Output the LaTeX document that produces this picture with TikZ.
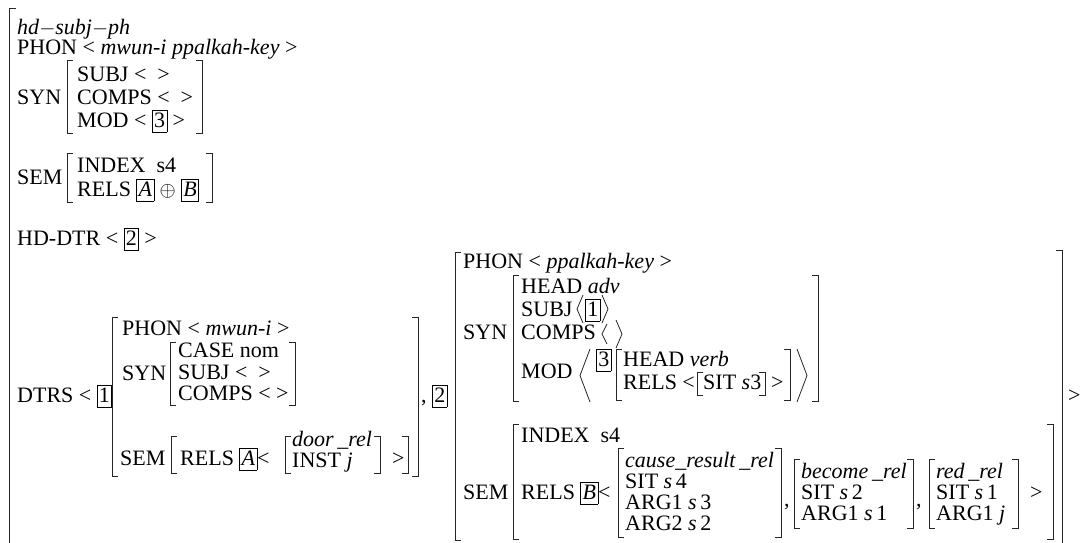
\documentclass[tikz,border=0pt]{standalone}
\usepackage{fontspec}
\setmainfont{Liberation Serif}
\newcommand\avmfont{\fontsize{22}{22}\selectfont}
\setlength\fboxsep{1.5pt}
\setlength\fboxrule{0.6pt}
% boxed tag
\newcommand\tg[1]{\fbox{\rule[-3pt]{0pt}{18pt}#1}}
% square brackets: x, top, bottom
\newcommand\lbr[3]{\draw[brk] (#1+6,#2) -- (#1,#2) -- (#1,#3) -- (#1+6,#3);}
\newcommand\rbr[3]{\draw[brk] (#1-6,#2) -- (#1,#2) -- (#1,#3) -- (#1-6,#3);}
% angle brackets: x, top, bottom, width
\newcommand\lang[4]{\draw[brk] (#1+#4,#2) -- (#1,{(#2+#3)/2}) -- (#1+#4,#3);}
\newcommand\rang[4]{\draw[brk] (#1-#4,#2) -- (#1,{(#2+#3)/2}) -- (#1-#4,#3);}
\tikzset{
  avm/.style={anchor=base west, inner sep=0pt, font=\avmfont},
  brk/.style={line width=0.8pt, black!85}
}
\begin{document}
\begin{tikzpicture}[x=1pt, y=-1pt]
    \useasboundingbox (0,0) rectangle (1080,542);
    % Outer bracket of the whole phrase
    \draw[brk] (16,8) -- (9,8) -- (9,548);

    % Type and phonology
    \node[avm] (type) at (17,34) {\textit{hd}$-$\textit{subj}$-$\textit{ph}};
    \node[avm] (phon) at (17,54) {PHON < \textit{mwun-i ppalkah-key} >};

    % SYN of the mother
    \node[avm] (syn) at (17,104) {SYN};
    \lbr{67}{60}{133} \rbr{202}{60}{133}
    \foreach \y/\t in {
        81/{SUBJ <\ \ >}, 104/{COMPS <\ \ >}, 127/{MOD < \tg{3} >}
    }
    \node[avm] (syn-\y) at (77,\y) {\t};

    % SEM of the mother
    \node[avm] (sem) at (17,184) {SEM};
    \lbr{67}{153}{202} \rbr{212}{153}{202}
    \node[avm] (index) at (77,172) {INDEX\ \ s4};
    \node[avm] (rels) at (77,196) {RELS \tg{\textit{A}} $\oplus$ \tg{\textit{B}}};

    % Head daughter
    \node[avm] (hddtr) at (17,245) {HD-DTR < \tg{2} >};

    % Daughters list
    \node[avm] (dtrs) at (17,402) {DTRS < \tg{1}};
    \node[avm] (comma) at (421,402) {, \tg{2}};
    \node[avm] (close) at (1068,402) {>};

    % First daughter
    \lbr{112}{317}{476} \rbr{418}{317}{476}
    \node[avm] (phon1) at (122,335) {PHON < \textit{mwun-i} >};
    \node[avm] (syn1) at (122,380) {SYN};
    \lbr{170}{342}{405} \rbr{295}{342}{405}
    \foreach \y/\t in {
        357/{CASE nom}, 379/{SUBJ <\ \ >}, 400/{COMPS < >}
    }
    \node[avm] (syn1-\y) at (178,\y) {\t};
    \node[avm] (sem1) at (120,465) {SEM};
    \lbr{171}{436}{473} \rbr{408}{436}{473}
    \node[avm] (rels1) at (180,465) {RELS \tg{\textit{A}}<};
    \lbr{285}{436}{473} \rbr{380}{436}{473}
    \node[avm] (door) at (292,446) {\textit{door\,\_rel}};
    \node[avm] (inst) at (292,467) {INST \textit{j}};
    \node[avm] (gt1) at (392,465) {>};

    % Second daughter
    \lbr{455}{252}{540} \rbr{1062}{250}{548}
    \node[avm] (phon2) at (463,268) {PHON < \textit{ppalkah-key} >};
    \node[avm] (syn2) at (463,339) {SYN};
    \lbr{513}{275}{401} \rbr{818}{275}{401}
    \node[avm] (head2) at (521,293) {HEAD \textit{adv}};
    \node[avm] (subj2) at (521,316) {SUBJ};
    \node[avm] (tag1) at (585,316) {\tg{1}};
    \lang{577}{295}{323}{6} \rang{608}{295}{323}{6}
    \node[avm] (comps2) at (521,339) {COMPS};
    \lang{602}{324}{344}{5} \rang{622}{320}{348}{6}
    \node[avm] (mod2) at (521,378) {MOD};
    \lang{580}{349}{402}{10} \rang{807}{349}{402}{10}
    \node[avm] (tag3) at (596,366) {\tg{3}};
    \lbr{616}{349}{400} \rbr{790}{349}{400}
    \node[avm] (verb) at (623,366) {HEAD \textit{verb}};
    \node[avm] (relsm) at (623,389) {RELS <};
    \lbr{697}{372}{395} \rbr{765}{372}{395}
    \node[avm] (sit3) at (703,389) {SIT \textit{s}3};
    \node[avm] (gtm) at (771,389) {>};

    \node[avm] (sem2) at (463,499) {SEM};
    \lbr{513}{424}{539} \rbr{1053}{424}{539}
    \node[avm] (index2) at (521,442) {INDEX\ \ s4};
    \node[avm] (rels2) at (521,499) {RELS \tg{\textit{B}}<};
    % cause relation
    \lbr{618}{448}{537} \rbr{781}{448}{537}
    \foreach \y/\t in {
        467/{\textit{cause\_result\,\_rel}}, 488/{SIT \textit{s}\,4},
        509/{ARG1 \textit{s}\,3}, 530/{ARG2 \textit{s}\,2}
    }
    \node[avm] (cause-\y) at (625,\y) {\t};
    \node[avm] (c1) at (784,506) {,};
    % become relation
    \lbr{794}{459}{528} \rbr{913}{459}{528}
    \foreach \y/\t in {
        478/{\textit{become\,\_rel}}, 499/{SIT \textit{s}\,2}, 520/{ARG1 \textit{s}\,1}
    }
    \node[avm] (become-\y) at (801,\y) {\t};
    \node[avm] (c2) at (916,506) {,};
    % red relation
    \lbr{929}{459}{528} \rbr{1018}{459}{528}
    \foreach \y/\t in {
        478/{\textit{red\,\_rel}}, 499/{SIT \textit{s}\,1}, 520/{ARG1 \textit{j}}
    }
    \node[avm] (red-\y) at (936,\y) {\t};
    \node[avm] (gt2) at (1030,499) {>};
\end{tikzpicture}
\end{document}
